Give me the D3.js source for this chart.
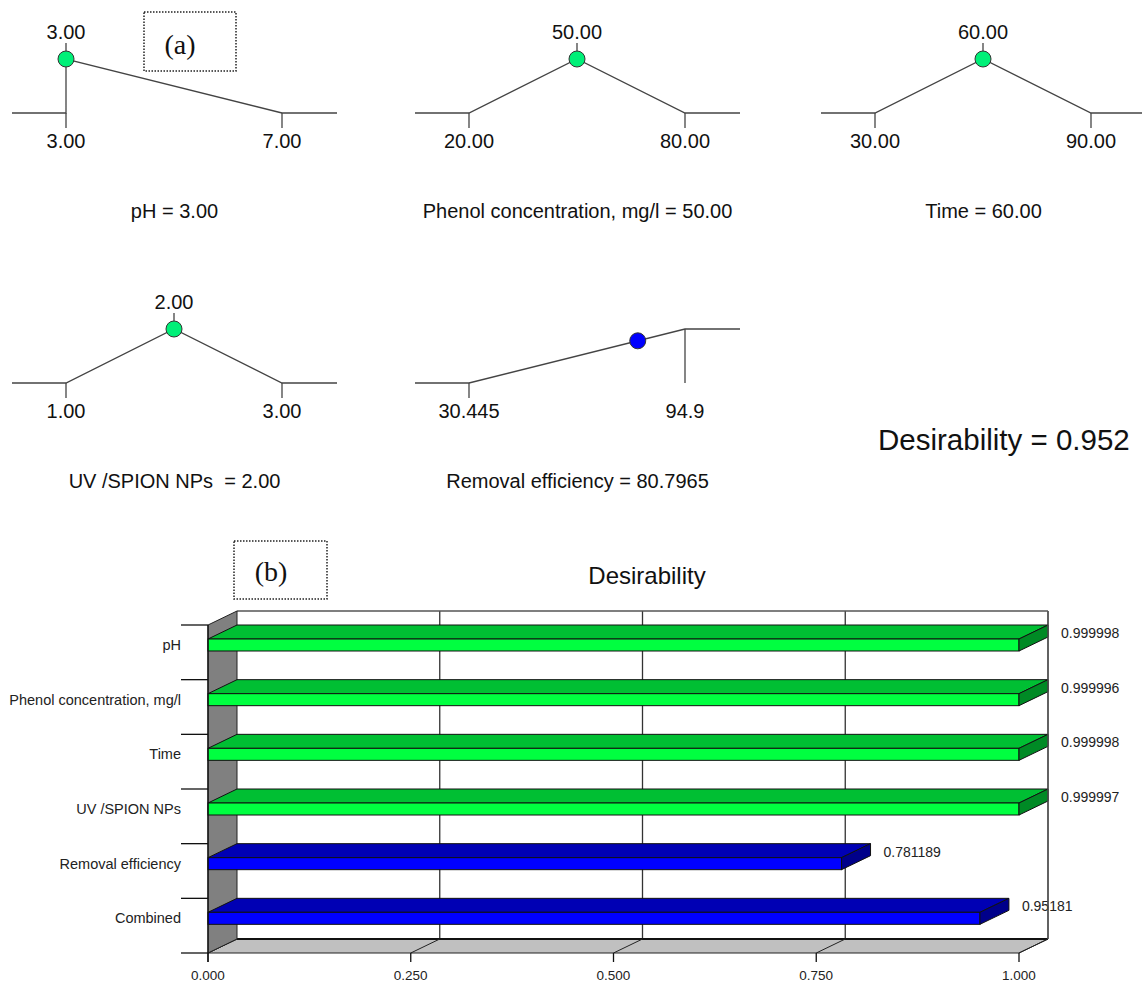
<!DOCTYPE html>
<html>
<head>
<meta charset="utf-8">
<script src="https://cdn.jsdelivr.net/npm/d3@7"></script>
<style>
  html, body { margin: 0; padding: 0; background: #fff; }
  svg { display: block; }
  text { white-space: pre; }
</style>
</head>
<body>
<svg id="chart" width="1142" height="982"></svg>
<script>
// ---------- DATA ----------
// (a) desirability ramps
const factorNames = ["pH", "Phenol concentration, mg/l", "Time", "UV /SPION NPs "];
const factorLows = [3, 20, 30, 1];
const factorHighs = [7, 80, 90, 3];
const factorOptimum = [3, 50, 60, 2];
const factorLowLabels = ["3.00", "20.00", "30.00", "1.00"];
const factorHighLabels = ["7.00", "80.00", "90.00", "3.00"];
const factorOptLabels = ["3.00", "50.00", "60.00", "2.00"];
// ramp shape points [value, desirability]
const rampPH = [[3, 1], [7, 0]];
const rampPhenol = [[20, 0], [50, 1], [80, 0]];
const rampTime = [[30, 0], [60, 1], [90, 0]];
const rampUV = [[1, 0], [2, 1], [3, 0]];
const factorRamps = [rampPH, rampPhenol, rampTime, rampUV];

const responseName = "Removal efficiency";
const responseLow = 30.445;
const responseHigh = 94.9;
const responseValue = 80.7965;
const responseValueLabel = "80.7965";
const responseLowLabel = "30.445";
const responseHighLabel = "94.9";
const responseRamp = [[30.445, 0], [94.9, 1]];
const responseD = 0.781189;
const overallLabel = "Desirability = 0.952";

// (b) desirability bars
const barCategories = ["pH", "Phenol concentration, mg/l", "Time", "UV /SPION NPs", "Removal efficiency", "Combined"];
const barValues = [0.999998, 0.999996, 0.999998, 0.999997, 0.781189, 0.95181];
const barValueLabels = ["0.999998", "0.999996", "0.999998", "0.999997", "0.781189", "0.95181"];
const barKinds = ["factor", "factor", "factor", "factor", "response", "response"];
const xTickValues = [0, 0.25, 0.5, 0.75, 1];
const xTickLabels = ["0.000", "0.250", "0.500", "0.750", "1.000"];

// ---------- DRAW ----------
const svg = d3.select("#chart");
const SANS = "'Liberation Sans', Arial, sans-serif";
const SERIF = "'Liberation Serif', 'Times New Roman', serif";
const CIRCLE_GREEN = "#00f078";
const FS_A = 20;

function drawRamp(left, base, low, high, ramp, opts) {
  const g = svg.append("g");
  const x = d3.scaleLinear().domain([low, high]).range([left + 54, left + 270]);
  const y = d3.scaleLinear().domain([0, 1]).range([base, base - 54]);
  const right = left + 325;
  const pts = [];
  pts.push([left, y(0)]);
  pts.push([x(ramp[0][0]), y(0)]);
  ramp.forEach(p => pts.push([x(p[0]), y(p[1])]));
  const lastD = ramp[ramp.length - 1][1];
  pts.push([right, y(lastD)]);
  g.append("path")
    .attr("d", d3.line()(pts))
    .attr("fill", "none").attr("stroke", "#444").attr("stroke-width", 1.3);
  g.append("line").attr("x1", x(low)).attr("x2", x(low))
    .attr("y1", base).attr("y2", base + 15).attr("stroke", "#444").attr("stroke-width", 1.3);
  if (opts.highTickUp) {
    g.append("line").attr("x1", x(high)).attr("x2", x(high))
      .attr("y1", y(1)).attr("y2", base).attr("stroke", "#444").attr("stroke-width", 1.3);
  } else {
    g.append("line").attr("x1", x(high)).attr("x2", x(high))
      .attr("y1", base).attr("y2", base + 15).attr("stroke", "#444").attr("stroke-width", 1.3);
  }
  g.append("text").attr("x", x(low)).attr("y", base + 35).attr("text-anchor", "middle")
    .attr("font-family", SANS).attr("font-size", FS_A).attr("fill", "#111").text(opts.lowLabel);
  g.append("text").attr("x", x(high)).attr("y", base + 35).attr("text-anchor", "middle")
    .attr("font-family", SANS).attr("font-size", FS_A).attr("fill", "#111").text(opts.highLabel);
  const cx = x(opts.value), cy = y(opts.d);
  if (opts.optLabel) {
    g.append("line").attr("x1", cx).attr("x2", cx).attr("y1", cy - 8).attr("y2", cy - 16)
      .attr("stroke", "#444").attr("stroke-width", 1.3);
    g.append("text").attr("x", cx).attr("y", cy - 20).attr("text-anchor", "middle")
      .attr("font-family", SANS).attr("font-size", FS_A).attr("fill", "#111").text(opts.optLabel);
  }
  g.append("circle").attr("cx", cx).attr("cy", cy).attr("r", 8)
    .attr("fill", opts.color).attr("stroke", "#333").attr("stroke-width", 1);
  g.append("text").attr("x", left + 162.5).attr("y", base + 105).attr("text-anchor", "middle")
    .attr("font-family", SANS).attr("font-size", FS_A).attr("fill", "#111").text(opts.title);
}

const panelLefts = [12, 415, 821, 12];
const panelBases = [113, 113, 113, 383];
factorNames.forEach((name, i) => {
  const r = factorRamps[i];
  const hit = r.find(p => p[0] === factorOptimum[i]);
  drawRamp(panelLefts[i], panelBases[i], factorLows[i], factorHighs[i], r, {
    lowLabel: factorLowLabels[i], highLabel: factorHighLabels[i],
    optLabel: factorOptLabels[i], value: factorOptimum[i], d: hit ? hit[1] : 0,
    color: CIRCLE_GREEN, title: name + " = " + factorOptLabels[i]
  });
});
drawRamp(415, 383, responseLow, responseHigh, responseRamp, {
  lowLabel: responseLowLabel, highLabel: responseHighLabel, optLabel: null,
  value: responseValue, d: responseD, color: "#0000ff",
  title: responseName + " = " + responseValueLabel, highTickUp: true
});

svg.append("text").attr("x", 878).attr("y", 450)
  .attr("font-family", SANS).attr("font-size", 29.5).attr("fill", "#111").text(overallLabel);

function labelBox(x0, y0, w, h, txt, tx, ty) {
  svg.append("rect").attr("x", x0).attr("y", y0).attr("width", w).attr("height", h)
    .attr("fill", "none").attr("stroke", "#222").attr("stroke-width", 1.5)
    .attr("stroke-dasharray", "1.5,1.5");
  svg.append("text").attr("x", tx).attr("y", ty).attr("text-anchor", "middle")
    .attr("font-family", SERIF).attr("font-size", 28).attr("fill", "#111").text(txt);
}
labelBox(144, 12, 92, 59, "(a)", 180, 54);
labelBox(234, 541, 93, 58, "(b)", 271, 581);

// ---------- (b) 3D bar chart ----------
const DX = 29, DY = -14;
const xs = d3.scaleLinear().domain([0, 1]).range([208, 1019]);
const ys = d3.scaleBand().domain(barCategories).range([625, 953]).padding(0);
const bottomY = 953, topY = 625;

svg.append("text").attr("x", 647).attr("y", 584).attr("text-anchor", "middle")
  .attr("font-family", SANS).attr("font-size", 24).attr("fill", "#111").text("Desirability");

const gb = svg.append("g");
gb.append("rect").attr("x", xs(0) + DX).attr("y", topY + DY)
  .attr("width", xs(1) - xs(0)).attr("height", bottomY - topY).attr("fill", "#fff");
xTickValues.slice(1).forEach(v => {
  gb.append("line").attr("x1", xs(v) + DX).attr("x2", xs(v) + DX)
    .attr("y1", topY + DY).attr("y2", bottomY + DY).attr("stroke", "#333").attr("stroke-width", 1.3);
});
gb.append("line").attr("x1", xs(0) + DX).attr("x2", xs(1) + DX)
  .attr("y1", topY + DY).attr("y2", topY + DY).attr("stroke", "#555").attr("stroke-width", 1.3);

// floor
gb.append("path").attr("d", d3.line()([[xs(0), bottomY], [xs(1), bottomY], [xs(1) + DX, bottomY + DY], [xs(0) + DX, bottomY + DY]]) + "Z")
  .attr("fill", "#c0c0c0").attr("stroke", "#222").attr("stroke-width", 1);
gb.append("line").attr("x1", xs(0) + DX).attr("x2", xs(1) + DX)
  .attr("y1", bottomY + DY).attr("y2", bottomY + DY).attr("stroke", "#111").attr("stroke-width", 2);
xTickValues.forEach(v => {
  gb.append("line").attr("x1", xs(v)).attr("y1", bottomY).attr("x2", xs(v) + DX).attr("y2", bottomY + DY)
    .attr("stroke", "#222").attr("stroke-width", 1);
});
// side wall
gb.append("path").attr("d", d3.line()([[xs(0), topY], [xs(0) + DX, topY + DY], [xs(0) + DX, bottomY + DY], [xs(0), bottomY]]) + "Z")
  .attr("fill", "#808080").attr("stroke", "#222").attr("stroke-width", 1);

// bars
const colors = {
  factor: { front: "#00ff40", top: "#00bf33", end: "#008a25" },
  response: { front: "#0000ff", top: "#0000b4", end: "#00008a" }
};
barCategories.forEach((c, i) => {
  const b = ys(c);
  const v = barValues[i];
  const col = colors[barKinds[i]];
  const x0 = xs(0), x1 = xs(v);
  const fy0 = b + 14, fy1 = b + 26;
  gb.append("path").attr("d", d3.line()([[x0, fy0], [x1, fy0], [x1 + DX, fy0 + DY], [x0 + DX, fy0 + DY]]) + "Z")
    .attr("fill", col.top).attr("stroke", "#111").attr("stroke-width", 1);
  gb.append("rect").attr("x", x0).attr("y", fy0).attr("width", x1 - x0).attr("height", fy1 - fy0)
    .attr("fill", col.front).attr("stroke", "#111").attr("stroke-width", 1);
  gb.append("path").attr("d", d3.line()([[x1, fy0], [x1 + DX, fy0 + DY], [x1 + DX, fy1 + DY], [x1, fy1]]) + "Z")
    .attr("fill", col.end).attr("stroke", "#111").attr("stroke-width", 1);
  gb.append("text").attr("x", x1 + DX + 13).attr("y", b + 13)
    .attr("font-family", SANS).attr("font-size", 14).attr("fill", "#222").text(barValueLabels[i]);
});

gb.append("line").attr("x1", xs(1) + DX).attr("x2", xs(1) + DX)
  .attr("y1", topY + DY).attr("y2", bottomY + DY).attr("stroke", "#555").attr("stroke-width", 1.3);

gb.append("line").attr("x1", xs(0)).attr("x2", xs(0)).attr("y1", topY).attr("y2", bottomY + 9)
  .attr("stroke", "#111").attr("stroke-width", 1.3);
const bounds = barCategories.map(c => ys(c)).concat([bottomY]);
bounds.forEach(b => {
  gb.append("line").attr("x1", 181).attr("x2", xs(0)).attr("y1", b).attr("y2", b)
    .attr("stroke", "#111").attr("stroke-width", 1.3);
});
barCategories.forEach(c => {
  gb.append("text").attr("x", 181).attr("y", ys(c) + 25).attr("text-anchor", "end")
    .attr("font-family", SANS).attr("font-size", 14.5).attr("fill", "#222").text(c);
});
xTickValues.forEach((v, i) => {
  gb.append("line").attr("x1", xs(v)).attr("x2", xs(v)).attr("y1", bottomY).attr("y2", bottomY + 9)
    .attr("stroke", "#111").attr("stroke-width", 1.3);
  gb.append("text").attr("x", xs(v)).attr("y", 980).attr("text-anchor", "middle")
    .attr("font-family", SANS).attr("font-size", 13.5).attr("fill", "#222").text(xTickLabels[i]);
});
</script>
</body>
</html>
